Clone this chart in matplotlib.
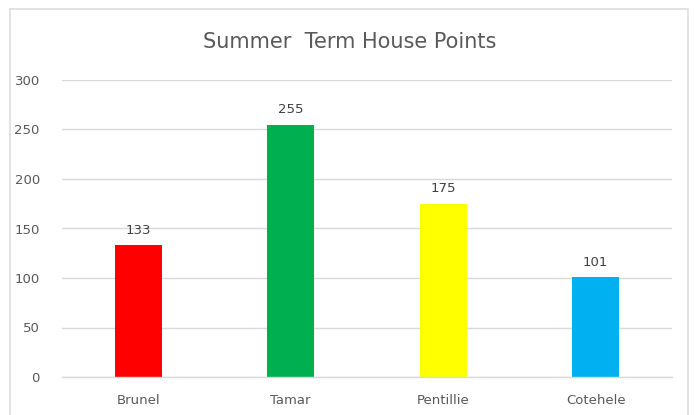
import matplotlib.pyplot as plt
from matplotlib.patches import Rectangle

# chart data
houses = ["Brunel", "Tamar", "Pentillie", "Cotehele"]
points = [133, 255, 175, 101]
bar_colors = ["#FF0000", "#00B050", "#FFFF00", "#00B0F0"]
y_ticks = [0, 50, 100, 150, 200, 250, 300]

W, H = 694, 415
fig = plt.figure(figsize=(W / 100, H / 100), dpi=100)
fig.patch.set_facecolor("white")

# light border around the chart area (bottom edge runs off the picture)
fig.patches.append(Rectangle((10 / W, -0.05), 678 / W, 1.05 - 9.5 / H, transform=fig.transFigure,
                             fill=False, edgecolor="#DDDDDD", linewidth=1.2))

ax = fig.add_axes([62 / W, 1 - 377 / H, 610 / W, 297 / H])
x = range(len(houses))
ax.bar(x, points, width=0.31, color=bar_colors, zorder=2)

for xi, v in zip(x, points):
    ax.annotate(str(v), (xi, v), xytext=(0, 6), textcoords="offset points",
                ha="center", va="bottom", fontsize=9.5, color="#404040")

ax.set_xlim(-0.5, len(houses) - 0.5)
ax.set_ylim(0, 300)
ax.set_yticks(y_ticks)
ax.set_xticks(list(x))
ax.set_xticklabels(houses)
ax.tick_params(axis="both", length=0, colors="#595959", labelsize=9.5)
ax.tick_params(axis="x", pad=12)
ax.tick_params(axis="y", pad=16)
ax.grid(axis="y", color="#D9D9D9", linewidth=1, zorder=0)
for s in ["top", "right", "left"]:
    ax.spines[s].set_visible(False)
ax.spines["bottom"].set_color("#D9D9D9")
ax.spines["bottom"].set_linewidth(1)

fig.text(350 / W, 1 - 42 / H, "Summer  Term House Points", ha="center", va="center",
         fontsize=15, color="#595959")

fig.savefig("out.png", dpi=100)
